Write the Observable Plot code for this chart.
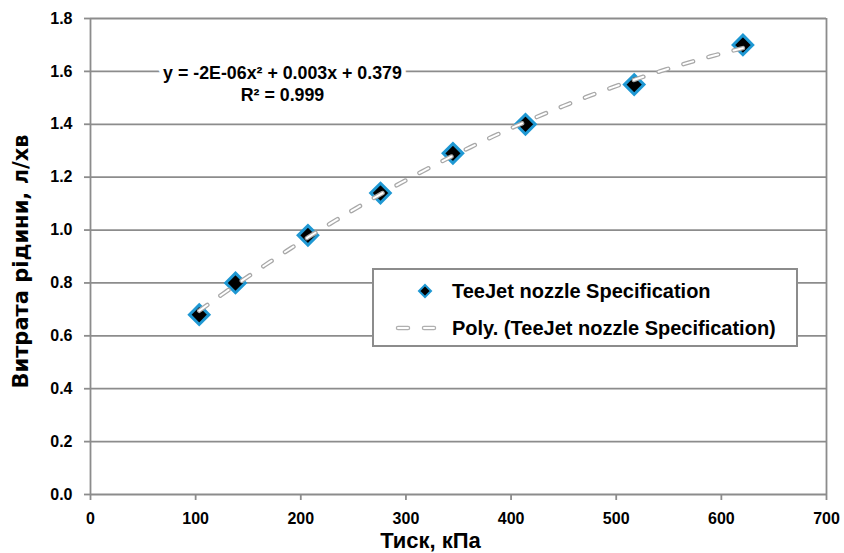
<!DOCTYPE html>
<html>
<head>
<meta charset="utf-8">
<script src="https://cdn.jsdelivr.net/npm/d3@7"></script>
<script src="https://cdn.jsdelivr.net/npm/@observablehq/plot@0.6"></script>
<style>
  html, body { margin: 0; padding: 0; background: #fff; }
  #wrap { position: relative; width: 844px; height: 553px; font-family: "Liberation Sans", Arial, sans-serif; }
  #legend { position: absolute; left: 372px; top: 268px; width: 422px; height: 75px; border: 2px solid #8c8c8c; background: #fff; box-sizing: content-box; }
  .row { position: absolute; left: 0; height: 24px; display: flex; align-items: center; font-weight: bold; font-size: 20px; color: #000; }
  .row svg { position: absolute; }
  .row span { position: absolute; left: 78px; white-space: nowrap; }
</style>
</head>
<body>
<div id="wrap"></div>
<script>
// ---- data ----
const pressure = [103.4, 137.9, 206.8, 275.8, 344.7, 413.7, 517.1, 620.5];
const flow = [0.68, 0.80, 0.98, 1.14, 1.29, 1.40, 1.55, 1.70];
const xTicks = [0, 100, 200, 300, 400, 500, 600, 700];
const yTicks = [0, 0.2, 0.4, 0.6, 0.8, 1.0, 1.2, 1.4, 1.6, 1.8];
const equationLines = ["y = -2E-06x\u00B2 + 0.003x + 0.379", "R\u00B2 = 0.999"];
const seriesName = "TeeJet nozzle Specification";
const trendName = "Poly. (TeeJet nozzle Specification)";
const xTitle = "Тиск, кПа";
const yTitle = "Витрата рідини, л/хв";

const points = pressure.map((p, i) => ({x: p, y: flow[i]}));

// quadratic least-squares trendline fitted to the data
function quadFit(xs, ys) {
  const n = xs.length;
  let s = [0,0,0,0,0], t = [0,0,0];
  for (let i = 0; i < n; i++) {
    const x = xs[i], y = ys[i];
    for (let k = 0; k < 5; k++) s[k] += Math.pow(x, k);
    for (let k = 0; k < 3; k++) t[k] += y * Math.pow(x, k);
  }
  const A = [[s[0], s[1], s[2], t[0]], [s[1], s[2], s[3], t[1]], [s[2], s[3], s[4], t[2]]];
  for (let i = 0; i < 3; i++) {
    for (let j = i + 1; j < 3; j++) {
      const f = A[j][i] / A[i][i];
      for (let k = i; k < 4; k++) A[j][k] -= f * A[i][k];
    }
  }
  const c = [0,0,0];
  for (let i = 2; i >= 0; i--) {
    let v = A[i][3];
    for (let k = i + 1; k < 3; k++) v -= A[i][k] * c[k];
    c[i] = v / A[i][i];
  }
  return c;
}
const coef = quadFit(pressure, flow);
const xMin = d3.min(pressure), xMax = d3.max(pressure);
const trend = d3.range(0, 101).map(i => {
  const x = xMin + (xMax - xMin) * i / 100;
  return {x, y: coef[0] + coef[1] * x + coef[2] * x * x};
});

const gridColor = "#8c8c8c";
const markerStroke = "#1f98d3";
const dash = "10,16";

const chart = Plot.plot({
  width: 844,
  height: 553,
  marginLeft: 90,
  marginRight: 18,
  marginTop: 18,
  marginBottom: 59,
  style: {fontFamily: "'Liberation Sans', Arial, sans-serif", fontWeight: "bold", fontSize: "16px", color: "#000", background: "#fff", overflow: "visible"},
  x: {domain: [0, 700]},
  y: {domain: [0, 1.8]},
  marks: [
    Plot.ruleY(yTicks, {stroke: gridColor, strokeWidth: 1.8}),
    Plot.ruleX([0, 700], {stroke: gridColor, strokeWidth: 1.8}),
    Plot.axisY({ticks: yTicks, tickFormat: d => d.toFixed(1), tickSize: 6, tickPadding: 12, stroke: gridColor, strokeWidth: 1.8, fill: "#000", fontSize: 16, fontWeight: "bold", label: null}),
    Plot.axisX({ticks: xTicks, tickFormat: d => String(d), tickSize: 6, tickPadding: 12, stroke: gridColor, strokeWidth: 1.8, fill: "#000", fontSize: 16, fontWeight: "bold", label: null}),
    Plot.dot(points, {x: "x", y: "y", symbol: "diamond2", r: 8.8, fill: "#000", stroke: markerStroke, strokeWidth: 3}),
    Plot.line(trend, {x: "x", y: "y", stroke: "#a8a8a8", strokeWidth: 4.5, strokeDasharray: dash, strokeLinecap: "round"}),
    Plot.line(trend, {x: "x", y: "y", stroke: "#ffffff", strokeWidth: 2, strokeDasharray: dash, strokeLinecap: "round"}),
    Plot.text([equationLines.join("\n")], {x: 182.6, y: 1.556, fontSize: 17.8, fontWeight: "bold", lineHeight: 1.2, fill: "#000", stroke: "#fff", strokeWidth: 9, paintOrder: "stroke"}),
    Plot.text([xTitle], {frameAnchor: "bottom", dx: -28, dy: 46, lineAnchor: "middle", textAnchor: "middle", fontSize: 22, fontWeight: "bold", fill: "#000"}),
    Plot.text([yTitle], {frameAnchor: "left", dx: -69, dy: 5, rotate: -90, textAnchor: "middle", lineAnchor: "middle", fontSize: 21, fontWeight: "bold", fontFamily: "'DejaVu Sans', sans-serif", fill: "#000"})
  ]
});

const wrap = document.getElementById("wrap");
wrap.appendChild(chart);

// legend overlay
const legend = document.createElement("div");
legend.id = "legend";
legend.innerHTML = `
  <div class="row" style="top:9px;width:100%">
    <svg width="20" height="20" style="left:41px;top:2px" viewBox="-10 -10 20 20">
      <path d="M0,-6L6,0L0,6L-6,0Z" fill="#000" stroke="${markerStroke}" stroke-width="2"/>
    </svg>
    <span>${seriesName}</span>
  </div>
  <div class="row" style="top:46px;width:100%">
    <svg width="60" height="20" style="left:18px;top:2px">
      <line x1="6" y1="10" x2="50" y2="10" stroke="#b0b0b0" stroke-width="4.5" stroke-dasharray="${dash}" stroke-linecap="round"/>
      <line x1="6" y1="10" x2="50" y2="10" stroke="#fff" stroke-width="2" stroke-dasharray="${dash}" stroke-linecap="round"/>
    </svg>
    <span>${trendName}</span>
  </div>`;
wrap.appendChild(legend);
</script>
</body>
</html>
